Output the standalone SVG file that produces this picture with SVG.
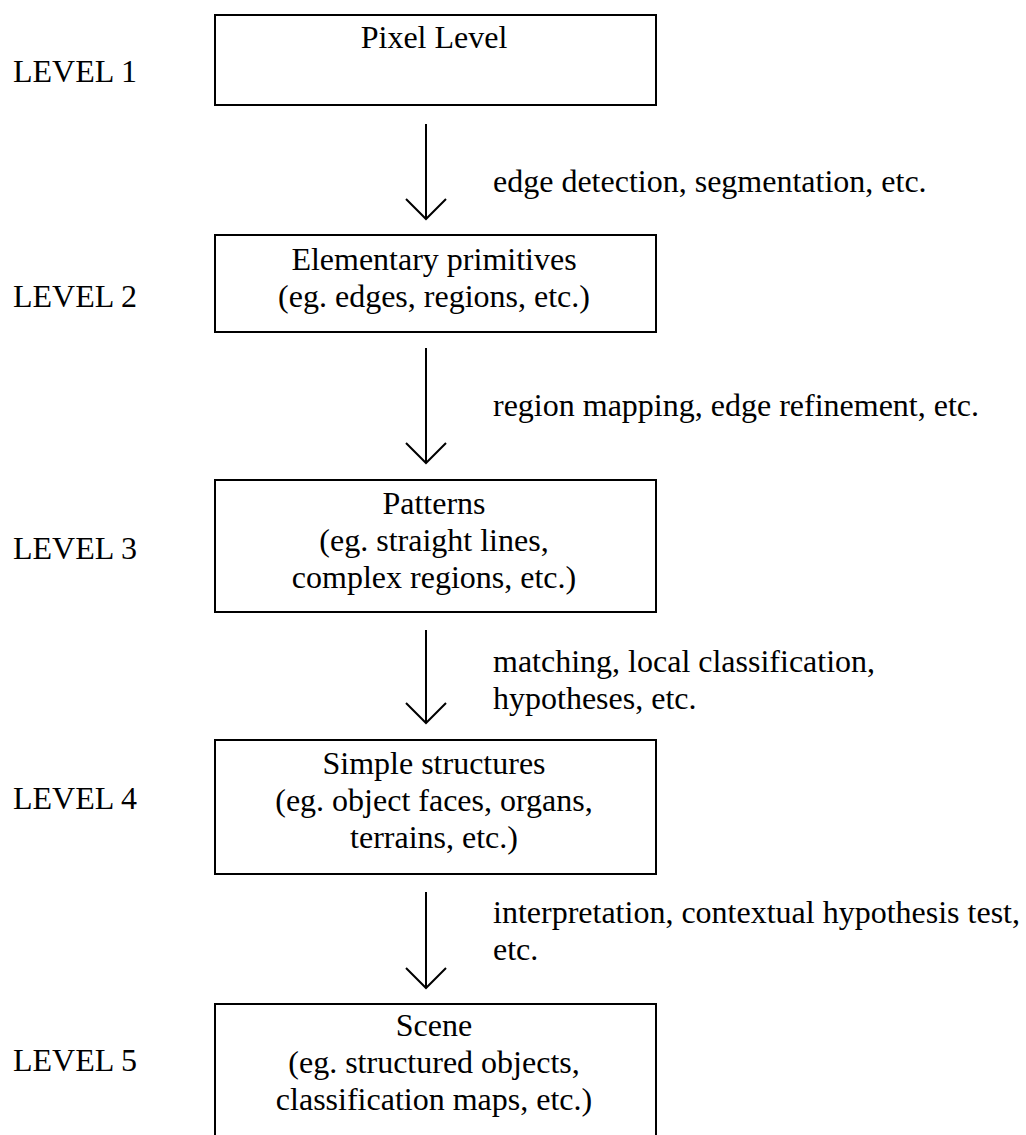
<svg xmlns="http://www.w3.org/2000/svg" width="1026" height="1135" viewBox="0 0 1026 1135">
<style>
text{font-family:"Liberation Serif","Times New Roman",serif;font-size:32px;fill:#000}
.c{text-anchor:middle}
.box{fill:#fff;stroke:#000;stroke-width:2}
.conn line,.conn polyline{fill:none;stroke:#000;stroke-width:2}
</style>
<rect width="1026" height="1135" fill="#fff"/>
<g id="levels">
<text x="13" y="82">LEVEL 1</text>
<text x="13" y="307">LEVEL 2</text>
<text x="13" y="559">LEVEL 3</text>
<text x="13" y="809">LEVEL 4</text>
<text x="13" y="1071">LEVEL 5</text>
</g>
<g id="node1">
<rect class="box" x="215" y="15" width="441" height="90"/>
<text class="c" x="434" y="48">Pixel Level</text>
</g>
<g id="node2">
<rect class="box" x="215" y="235" width="441" height="97"/>
<text class="c" x="434" y="270">Elementary primitives</text>
<text class="c" x="434" y="307">(eg. edges, regions, etc.)</text>
</g>
<g id="node3">
<rect class="box" x="215" y="480" width="441" height="132"/>
<text class="c" x="434" y="514">Patterns</text>
<text class="c" x="434" y="551">(eg. straight lines,</text>
<text class="c" x="434" y="588">complex regions, etc.)</text>
</g>
<g id="node4">
<rect class="box" x="215" y="740" width="441" height="134"/>
<text class="c" x="434" y="774">Simple structures</text>
<text class="c" x="434" y="811">(eg. object faces, organs,</text>
<text class="c" x="434" y="848">terrains, etc.)</text>
</g>
<g id="node5">
<rect class="box" x="215" y="1004" width="441" height="140"/>
<text class="c" x="434" y="1036">Scene</text>
<text class="c" x="434" y="1073">(eg. structured objects,</text>
<text class="c" x="434" y="1110">classification maps, etc.)</text>
</g>
<g id="connectors" class="conn">
<line x1="426" y1="124" x2="426" y2="219"/>
<polyline points="406,199 426,219 446,199"/>
<line x1="426" y1="348" x2="426" y2="463"/>
<polyline points="406,443 426,463 446,443"/>
<line x1="426" y1="630" x2="426" y2="723"/>
<polyline points="406,703 426,723 446,703"/>
<line x1="426" y1="892" x2="426" y2="988"/>
<polyline points="406,968 426,988 446,968"/>
</g>
<g id="labels">
<text x="493" y="192">edge detection, segmentation, etc.</text>
<text x="493" y="416">region mapping, edge refinement, etc.</text>
<text x="493" y="672">matching, local classification,</text>
<text x="493" y="709">hypotheses, etc.</text>
<text x="493" y="923">interpretation, contextual hypothesis test,</text>
<text x="493" y="960">etc.</text>
</g>
</svg>
